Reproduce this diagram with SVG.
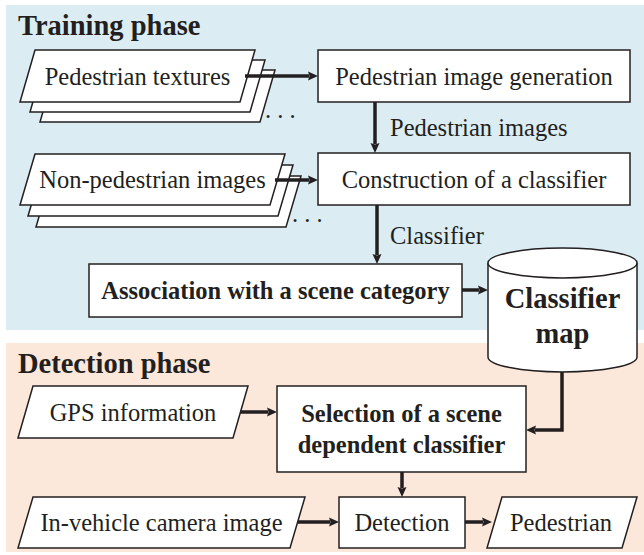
<svg xmlns="http://www.w3.org/2000/svg" width="644" height="555" viewBox="0 0 644 555">
<style>
.t{font-family:"Liberation Serif","Times New Roman",serif;font-size:24.5px;fill:#231f20}
.b{font-weight:bold}
.title{font-family:"Liberation Serif","Times New Roman",serif;font-size:28.5px;font-weight:bold;fill:#231f20}
.big{font-family:"Liberation Serif","Times New Roman",serif;font-size:28.5px;font-weight:bold;fill:#231f20}
.shape{fill:#ffffff;stroke:#231f20;stroke-width:1.5}
.conn{fill:none;stroke:#231f20;stroke-width:3.5}
</style>
<defs>
<marker id="ah" viewBox="0 0 10 10" refX="1" refY="5" markerWidth="10" markerHeight="10" markerUnits="userSpaceOnUse" orient="auto">
<path d="M0,0.5 L10,5 L0,9.5 L1.5,5 z" fill="#231f20"/>
</marker>
</defs>
<g id="panels">
<rect x="6" y="5" width="638" height="325" fill="#dbedf3"/>
<rect x="6" y="343" width="638" height="209" fill="#fce8da"/>
</g>
<g id="titles">
<text class="title" x="18" y="35">Training phase</text>
<text class="title" x="18" y="373">Detection phase</text>
</g>
<g id="ped-textures">
<polygon class="shape" points="55,70 275,70 260,122 40,122"/>
<polygon class="shape" points="45,60 265,60 250,112 30,112"/>
<polygon class="shape" points="35,50 255,50 240,102 20,102"/>
<text class="t" x="137.5" y="85" text-anchor="middle">Pedestrian textures</text>
<text class="t" x="265" y="118">. . .</text>
</g>
<g id="nonped-images">
<polygon class="shape" points="51,176 301,176 286,227 36,227"/>
<polygon class="shape" points="43,165 293,165 278,216 28,216"/>
<polygon class="shape" points="35,154 285,154 270,205 20,205"/>
<text class="t" x="152.5" y="188" text-anchor="middle">Non-pedestrian images</text>
<text class="t" x="292" y="222">. . .</text>
</g>
<g id="ped-gen">
<rect class="shape" x="318" y="50" width="312" height="52"/>
<text class="t" x="474" y="85" text-anchor="middle">Pedestrian image generation</text>
</g>
<g id="construction">
<rect class="shape" x="318" y="153" width="312" height="52"/>
<text class="t" x="474" y="188" text-anchor="middle">Construction of a classifier</text>
</g>
<g id="association">
<rect class="shape" x="89" y="264" width="373" height="53"/>
<text class="t b" x="275.5" y="299" text-anchor="middle">Association with a scene category</text>
</g>
<g id="classifier-map">
<path class="shape" d="M488,263 L488,357 A74.5,15 0 0 0 637,357 L637,263"/>
<ellipse class="shape" cx="562.5" cy="263" rx="74.5" ry="15"/>
<text class="big" x="562.5" y="308" text-anchor="middle">Classifier</text>
<text class="big" x="562.5" y="343" text-anchor="middle">map</text>
</g>
<g id="gps">
<polygon class="shape" points="33,386 248,386 233,438 18,438"/>
<text class="t" x="133" y="421" text-anchor="middle">GPS information</text>
</g>
<g id="selection">
<rect class="shape" x="277" y="386" width="249" height="86"/>
<text class="t b" x="401.5" y="422" text-anchor="middle">Selection of a scene</text>
<text class="t b" x="401.5" y="453" text-anchor="middle">dependent classifier</text>
</g>
<g id="camera">
<polygon class="shape" points="33,497 305,497 290,548 18,548"/>
<text class="t" x="161.5" y="531" text-anchor="middle">In-vehicle camera image</text>
</g>
<g id="detection">
<rect class="shape" x="339" y="497" width="126" height="51"/>
<text class="t" x="402" y="531" text-anchor="middle">Detection</text>
</g>
<g id="pedestrian">
<polygon class="shape" points="502,497 637,497 622,548 487,548"/>
<text class="t" x="561" y="531" text-anchor="middle">Pedestrian</text>
</g>
<g id="connectors">
<path class="conn" d="M245,76 L309,76" marker-end="url(#ah)"/>
<path class="conn" d="M275,180 L309,180" marker-end="url(#ah)"/>
<path class="conn" d="M375,102 L375,144" marker-end="url(#ah)"/>
<path class="conn" d="M377,205 L377,255" marker-end="url(#ah)"/>
<path class="conn" d="M462,290 L479,290" marker-end="url(#ah)"/>
<path class="conn" d="M240,412 L268,412" marker-end="url(#ah)"/>
<path class="conn" d="M562,372 L562,430 L535,430" marker-end="url(#ah)"/>
<path class="conn" d="M402,472 L402,488" marker-end="url(#ah)"/>
<path class="conn" d="M298,522 L330,522" marker-end="url(#ah)"/>
<path class="conn" d="M465,522 L483,522" marker-end="url(#ah)"/>
<text class="t" x="390" y="136">Pedestrian images</text>
<text class="t" x="390" y="244">Classifier</text>
</g>
</svg>
